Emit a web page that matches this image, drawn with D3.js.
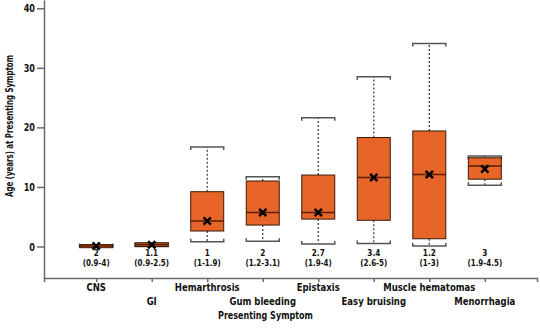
<!DOCTYPE html>
<html><head><meta charset="utf-8">
<script src="https://cdn.jsdelivr.net/npm/d3@7"></script>
<style>
body{margin:0;background:#fff;}
text{font-family:"Liberation Sans Narrow","Arial Narrow","DejaVu Sans Condensed",sans-serif;font-weight:bold;}
</style></head>
<body><svg id="c" width="540" height="328"></svg>
<script>
const categories = ["CNS","GI","Hemarthrosis","Gum bleeding","Epistaxis","Easy bruising","Muscle hematomas","Menorrhagia"];
const whiskerMin = [0, 0, 0.8, 0.9, 0.4, 0.5, 0.1, 10.3];
const q1Values   = [0, 0, 2.6, 3.6, 4.6, 4.4, 1.3, 11.3];
const medians    = [0.1, 0.3, 4.3, 5.7, 5.7, 11.6, 12.1, 13.5];
const q3Values   = [0.3, 0.6, 9.2, 11.0, 12.0, 18.3, 19.4, 14.9];
const whiskerMax = [0.3, 0.6, 16.7, 11.7, 21.6, 28.5, 34.1, 15.2];
const means      = [0.1, 0.3, 4.3, 5.7, 5.7, 11.6, 12.1, 13.0];
const labelTop   = ["2","1.1","1","2","2.7","3.4","1.2","3"];
const labelRange = ["(0.9-4)","(0.9-2.5)","(1-1.9)","(1.2-3.1)","(1.9-4)","(2.6-5)","(1-3)","(1.9-4.5)"];
const yTicks = [0,10,20,30,40];

const svg = d3.select("#c");
const x = d3.scaleLinear().domain([0.06, 8.94]).range([44, 537]);
const y = d3.scaleLinear().domain([-5.29, 41.39]).range([278, 0]);
const bw = 33;
const axisCol = "#6b6b6b";

function condense(sel, f){
  sel.each(function(){
    const w = this.getComputedTextLength();
    d3.select(this).attr("textLength", w*f).attr("lengthAdjust","spacingAndGlyphs");
  });
}

// axes
const xa = svg.append("g").attr("transform","translate(0,278)")
  .call(d3.axisBottom(x).tickValues(categories.map((d,i)=>i+1)).tickSize(4).tickSizeOuter(4).tickFormat(""));
xa.select(".domain").attr("stroke",axisCol).attr("stroke-width",1.5);
xa.selectAll(".tick line").attr("stroke",axisCol).attr("stroke-width",1.5);

const ya = svg.append("g").attr("transform","translate(44,0)")
  .call(d3.axisLeft(y).tickValues(yTicks).tickSize(7).tickSizeOuter(0).tickFormat(d3.format("d")));
ya.select(".domain").attr("stroke",axisCol).attr("stroke-width",1.5);
ya.selectAll(".tick line").attr("stroke",axisCol).attr("stroke-width",1.5);
ya.selectAll(".tick text").attr("font-size",11).attr("fill","#111").attr("x",-9)
  .style("font-family","'Liberation Sans Narrow','Arial Narrow','DejaVu Sans Condensed',sans-serif").style("font-weight","bold");
condense(ya.selectAll(".tick text"), 0.82);

// category labels (alternating rows)
const cl = svg.append("g").selectAll("text").data(categories).join("text")
  .attr("x",(d,i)=>x(i+1)).attr("y",(d,i)=> i%2===0 ? 291 : 305)
  .attr("text-anchor","middle").attr("font-size",10.5).attr("fill","#111").text(d=>d);
condense(cl, 0.9);

const xt = svg.append("text").attr("x",265.5).attr("y",319).attr("text-anchor","middle")
  .attr("font-size",10.5).attr("fill","#111").text("Presenting Symptom");
xt.attr("textLength",95).attr("lengthAdjust","spacingAndGlyphs");

const yt = svg.append("text").attr("transform","translate(12.5,126) rotate(-90)").attr("text-anchor","middle")
  .attr("font-size",10).attr("fill","#111").text("Age (years) at Presenting Symptom");
yt.attr("textLength",142).attr("lengthAdjust","spacingAndGlyphs");

// boxes
const g = svg.append("g");
categories.forEach((c,i)=>{
  const cx = x(i+1);
  // whiskers
  g.append("line").attr("x1",cx).attr("x2",cx).attr("y1",y(q3Values[i])).attr("y2",y(whiskerMax[i]))
    .attr("stroke","#333").attr("stroke-width",1.2).attr("stroke-dasharray","2,2");
  g.append("line").attr("x1",cx).attr("x2",cx).attr("y1",y(q1Values[i])).attr("y2",y(whiskerMin[i]))
    .attr("stroke","#333").attr("stroke-width",1.2).attr("stroke-dasharray","2,2");
  // caps (brackets)
  const yMax = y(whiskerMax[i]), yMin = y(whiskerMin[i]);
  g.append("path").attr("d",`M${cx-bw/2},${yMax+3}V${yMax}H${cx+bw/2}V${yMax+3}`)
    .attr("fill","none").attr("stroke","#555").attr("stroke-width",1.5);
  g.append("path").attr("d",`M${cx-bw/2},${yMin-3}V${yMin}H${cx+bw/2}V${yMin-3}`)
    .attr("fill","none").attr("stroke","#555").attr("stroke-width",1.5);
  // box
  const top = y(q3Values[i]), bot = y(q1Values[i]);
  g.append("rect").attr("x",cx-bw/2).attr("y",top).attr("width",bw).attr("height",Math.max(bot-top,3))
    .attr("fill","#e8652a").attr("stroke","#3b1a08").attr("stroke-width",1);
  g.append("line").attr("x1",cx-bw/2).attr("x2",cx+bw/2).attr("y1",y(medians[i])).attr("y2",y(medians[i]))
    .attr("stroke","#5a1e00").attr("stroke-width",1.5);
  g.append("path").attr("d",d3.symbol(d3.symbolX,36)()).attr("transform",`translate(${cx},${y(means[i])})`)
    .attr("stroke","#000").attr("stroke-width",2.5).attr("fill","none");
  // labels
  const t1 = g.append("text").attr("x",cx).attr("y",255.5).attr("text-anchor","middle").attr("font-size",9)
    .attr("fill","#111").text(labelTop[i]);
  condense(t1, 0.9);
  const t2 = g.append("text").attr("x",cx).attr("y",266).attr("text-anchor","middle").attr("font-size",9)
    .attr("fill","#111").text(labelRange[i]);
  condense(t2, 0.88);
});
</script></body></html>
